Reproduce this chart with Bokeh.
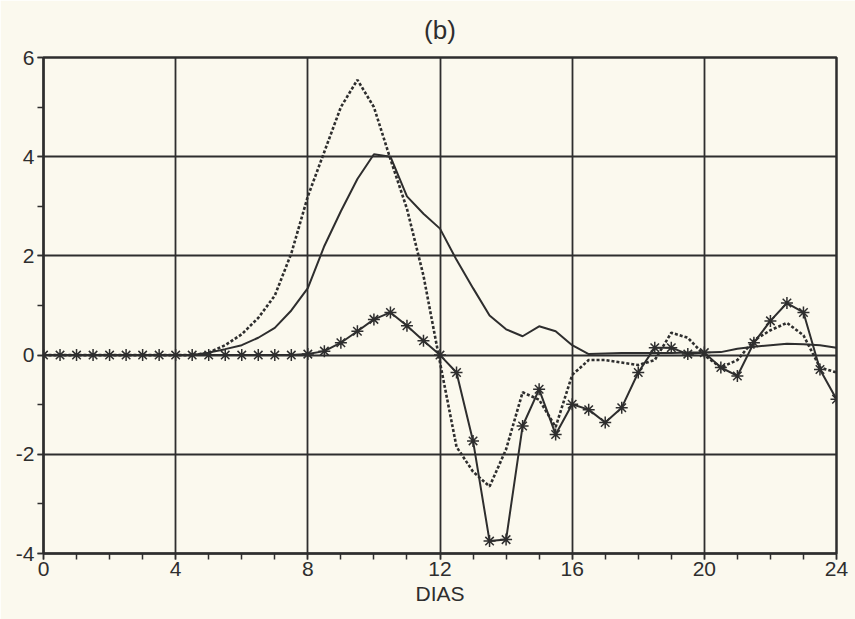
from bokeh.plotting import figure
from bokeh.models import Range1d, FixedTicker, Title
from bokeh.embed import file_html
from bokeh.resources import INLINE

# ---- data ----
dias = [i * 0.5 for i in range(49)]  # 0, 0.5, ..., 24

serie_solida = [0, 0, 0, 0, 0, 0, 0, 0, 0, 0,
                0.05, 0.12, 0.2, 0.35, 0.55, 0.9, 1.35, 2.2, 2.9, 3.55,
                4.05, 4.0, 3.2, 2.85, 2.55, 1.92, 1.35, 0.8, 0.52, 0.38,
                0.58, 0.48, 0.2, 0.02, 0.03, 0.04, 0.04, 0.04, 0.04, 0.05,
                0.05, 0.06, 0.13, 0.17, 0.2, 0.23, 0.22, 0.2, 0.15]

serie_punteada = [0, 0, 0, 0, 0, 0, 0, 0, 0, 0,
                  0.05, 0.2, 0.42, 0.75, 1.2, 2.05, 3.2, 4.1, 5.0, 5.55,
                  5.0, 3.95, 2.95, 1.6, -0.15, -1.85, -2.35, -2.65, -1.9, -0.75,
                  -0.9, -1.45, -0.4, -0.1, -0.1, -0.15, -0.2, -0.1, 0.45, 0.35,
                  0.0, -0.25, -0.1, 0.3, 0.5, 0.65, 0.4, -0.25, -0.35]

serie_asteriscos = [0, 0, 0, 0, 0, 0, 0, 0, 0, 0,
                    0, 0, 0, 0, 0, 0, 0.02, 0.08, 0.25, 0.48,
                    0.72, 0.86, 0.59, 0.29, 0.0, -0.35, -1.73, -3.75, -3.72, -1.43,
                    -0.69, -1.6, -0.99, -1.1, -1.36, -1.06, -0.35, 0.15, 0.15, 0.02,
                    0.05, -0.25, -0.42, 0.25, 0.69, 1.05, 0.86, -0.29, -0.89]

x_major = [0, 4, 8, 12, 16, 20, 24]
x_minor = list(range(0, 25))
y_major = [-4, -2, 0, 2, 4, 6]
y_minor = [-4, -3, -2, -1, 0, 1, 2, 3, 4, 5, 6]
y_labels = {-4: "-4", -2: "-2", 0: "0", 2: "2", 4: "4", 6: "6"}

INK = "#2e2e2e"
BG = "#fbf9ee"
FONT = "Liberation Sans"

p = figure(width=855, height=619, output_backend="svg", toolbar_location=None,
           x_range=Range1d(0, 24), y_range=Range1d(-4, 6),
           min_border_left=43, min_border_right=19, min_border_top=57,
           min_border_bottom=66)

p.background_fill_color = BG
p.border_fill_color = BG
p.outline_line_color = INK
p.outline_line_width = 2.5

p.title = Title(text="(b)", align="center", text_font=FONT, text_font_size="26px",
                text_font_style="normal", text_color=INK, standoff=25)

# axes
p.xaxis.ticker = FixedTicker(ticks=x_major, minor_ticks=x_minor)
p.yaxis.ticker = FixedTicker(ticks=y_major, minor_ticks=y_minor)
p.yaxis.major_label_overrides = y_labels
for ax in (p.xaxis, p.yaxis):
    ax.axis_line_color = INK
    ax.axis_line_width = 2
    ax.major_tick_line_color = INK
    ax.minor_tick_line_color = INK
    ax.major_tick_line_width = 1.5
    ax.minor_tick_line_width = 1.5
    ax.major_tick_out = 6
    ax.major_tick_in = 0
    ax.minor_tick_out = 6
    ax.minor_tick_in = 0
    ax.major_label_text_font = FONT
    ax.major_label_text_font_size = "21px"
    ax.major_label_text_color = INK
p.xaxis.major_label_standoff = 2
p.yaxis.major_label_standoff = 3
p.xaxis.axis_label = "DIAS"
p.xaxis.axis_label_text_font = FONT
p.xaxis.axis_label_text_font_size = "21px"
p.xaxis.axis_label_text_font_style = "normal"
p.xaxis.axis_label_text_color = INK
p.xaxis.axis_label_standoff = 3

# grid
p.xgrid.grid_line_color = INK
p.ygrid.grid_line_color = INK
p.xgrid.grid_line_width = 1.8
p.ygrid.grid_line_width = 1.8
p.xgrid.ticker = FixedTicker(ticks=x_major)
p.ygrid.ticker = FixedTicker(ticks=y_major)

# series
p.line(dias, serie_solida, line_color=INK, line_width=2)
p.line(dias, serie_punteada, line_color=INK, line_width=2.6, line_dash="3 2")
p.line(dias, serie_asteriscos, line_color=INK, line_width=2)
p.scatter(dias, serie_asteriscos, marker="asterisk", size=12, line_color=INK,
          line_width=1.5)

open("out.html", "w").write(file_html(p, INLINE))
